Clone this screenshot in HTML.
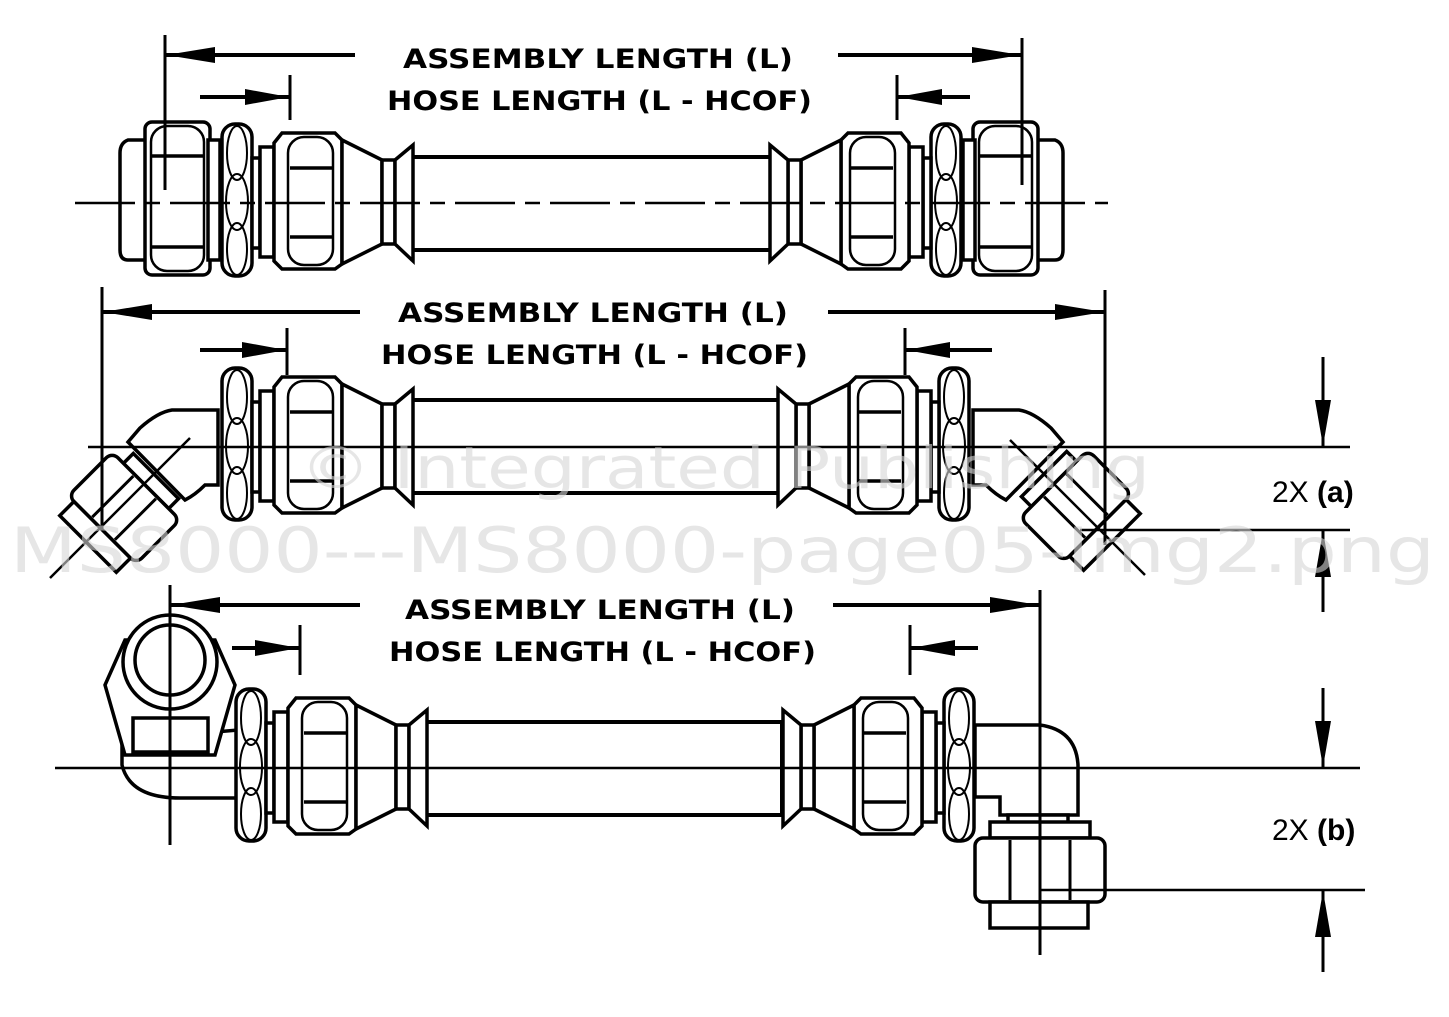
<!DOCTYPE html>
<html><head><meta charset="utf-8"><style>
html,body{margin:0;padding:0;background:#fff;}
svg{display:block}
.lb{font-family:"DejaVu Sans","Liberation Sans",sans-serif;font-weight:bold;}
.wm{font-family:"DejaVu Sans","Liberation Sans",sans-serif;font-weight:normal;}
</style></head><body>
<svg width="1449" height="1017" viewBox="0 0 1449 1017" xmlns="http://www.w3.org/2000/svg">
<defs>
<g id="core" fill="#fff" stroke="#000" stroke-width="3.5">
  <rect x="222" y="-79" width="30" height="152" rx="13"/>
  <g fill="none" stroke-width="2">
    <ellipse cx="237" cy="-50" rx="10" ry="27"/>
    <ellipse cx="237" cy="-1" rx="11" ry="28"/>
    <ellipse cx="237" cy="46" rx="10" ry="26"/>
  </g>
  <rect x="252" y="-45" width="8" height="90"/>
  <rect x="260" y="-56" width="14" height="110"/>
  <path d="M274,-60 L282,-70 L335,-70 L342,-63 L342,61 L335,66 L282,66 L274,58 Z"/>
  <rect x="288" y="-66" width="45" height="128" rx="16" fill="none" stroke-width="2.5"/>
  <path d="M290,-35 L333,-35 M290,34 L333,34" stroke-width="3.5"/>
  <path d="M342,-63 L382,-43 L382,41 L342,61 Z"/>
  <rect x="382" y="-43" width="13" height="84"/>
  <path d="M395,-43 L413,-58 L413,58 L395,41 Z"/>
</g>
<g id="nut" fill="#fff" stroke="#000" stroke-width="3.5">
  <path d="M148,-63 L128,-63 Q120,-60 120,-50 L120,47 Q120,57 128,57 L148,57"/>
  <rect x="145" y="-81" width="65" height="153" rx="7"/>
  <rect x="151" y="-77" width="53" height="145" rx="16" fill="none" stroke-width="2.5"/>
  <path d="M152,-47 L203,-47 M152,44 L203,44"/>
  <rect x="208" y="-63" width="12" height="120"/>
</g>
<g id="dnut" fill="#fff" stroke="#000" stroke-width="3.5">
  <rect x="-32" y="-48" width="64" height="14"/>
  <rect x="-48" y="-34" width="96" height="62" rx="8"/>
  <path d="M-16,-32 L-16,26 M16,-32 L16,26" stroke-width="3"/>
  <rect x="-40" y="28" width="80" height="20"/>
</g>
<g id="elb45" fill="#fff" stroke="#000" stroke-width="3.5">
  <path d="M218,410 L172,410 Q158,412 140,428 L128,442 L185,500 Q195,495 205,485 L218,485 Z"/>
</g>
</defs>

<g fill="#fff" stroke="#000" stroke-width="4">
<rect x="411" y="157" width="361" height="93"/>
<rect x="411" y="400" width="369" height="93"/>
<rect x="418" y="722" width="364" height="93"/>
</g>

<use href="#core" transform="translate(0,203)"/>
<use href="#nut" transform="translate(0,203)"/>
<use href="#core" transform="translate(1183,203) scale(-1,1)"/>
<use href="#nut" transform="translate(1183,203) scale(-1,1)"/>

<use href="#elb45"/>
<use href="#elb45" transform="translate(1191,0) scale(-1,1)"/>
<use href="#core" transform="translate(0,447)"/>
<use href="#core" transform="translate(1191,447) scale(-1,1)"/>
<use href="#dnut" transform="translate(122,510) rotate(45)"/>
<use href="#dnut" transform="translate(1078,508) rotate(-45)"/>

<g fill="#fff" stroke="#000" stroke-width="3.5">
  <path d="M238,730 L238,798 L180,798 Q130,798 122,765 L122,740 Z"/>
  <path d="M105,685 L125,640 L215,640 L235,685 L215,755 L125,755 Z"/>
  <rect x="133" y="718" width="75" height="34" fill="none"/>
  <circle cx="170" cy="662" r="47"/>
  <circle cx="170" cy="660" r="35"/>
  <path d="M975,725 L1040,725 Q1076,730 1078,765 L1078,815 L1000,815 L1000,797 L975,797 Z"/>
  <rect x="1008" y="815" width="60" height="8"/>
  <rect x="990" y="822" width="100" height="16"/>
  <rect x="975" y="838" width="130" height="64" rx="8"/>
  <path d="M1010,840 L1010,900 M1070,840 L1070,900" stroke-width="3"/>
  <rect x="990" y="902" width="98" height="26"/>
</g>
<use href="#core" transform="translate(14,768)"/>
<use href="#core" transform="translate(1196,768) scale(-1,1)"/>

<g stroke="#000" stroke-width="2.5" fill="none">
<path d="M75,203 L1108,203" stroke-dasharray="60,10,15,10"/>
<path d="M88,447 L1350,447"/>
<path d="M55,768 L1360,768"/>
<path d="M1080,530 L1350,530 M1040,890 L1365,890"/>
<path d="M50,578 L190,438 M1010,440 L1145,575"/>
<path d="M165,35 L165,190 M1022,38 L1022,185" stroke-width="3"/>
<path d="M102,287 L102,530 M1105,290 L1105,545" stroke-width="3"/>
<path d="M170,585 L170,845 M1040,590 L1040,955" stroke-width="3"/>
<path d="M290,75 L290,120 M897,75 L897,120" stroke-width="3"/>
<path d="M287,328 L287,375 M905,328 L905,375" stroke-width="3"/>
<path d="M300,625 L300,675 M910,625 L910,675" stroke-width="3"/>
<path d="M165,55 L355,55 M838,55 L1022,55" stroke-width="4"/>
<path d="M200,97 L290,97 M897,97 L970,97" stroke-width="4"/>
<path d="M102,312 L360,312 M828,312 L1105,312" stroke-width="4"/>
<path d="M200,350 L287,350 M905,350 L992,350" stroke-width="4"/>
<path d="M170,605 L360,605 M833,605 L1040,605" stroke-width="4"/>
<path d="M232,648 L300,648 M910,648 L978,648" stroke-width="4"/>
<path d="M1323,357 L1323,447 M1323,530 L1323,612" stroke-width="3"/>
<path d="M1323,688 L1323,768 M1323,890 L1323,972" stroke-width="3"/>
</g>
<g fill="#000">
<path d="M166,55 L215,47 L215,63 Z"/><path d="M1021,55 L972,47 L972,63 Z"/>
<path d="M289,97 L245,89 L245,105 Z"/><path d="M898,97 L942,89 L942,105 Z"/>
<path d="M103,312 L152,304 L152,320 Z"/><path d="M1104,312 L1055,304 L1055,320 Z"/>
<path d="M286,350 L242,342 L242,358 Z"/><path d="M906,350 L950,342 L950,358 Z"/>
<path d="M171,605 L220,597 L220,613 Z"/><path d="M1039,605 L990,597 L990,613 Z"/>
<path d="M299,648 L255,640 L255,656 Z"/><path d="M911,648 L955,640 L955,656 Z"/>
<path d="M1323,446 L1315,400 L1331,400 Z"/><path d="M1323,531 L1315,577 L1331,577 Z"/>
<path d="M1323,767 L1315,721 L1331,721 Z"/><path d="M1323,891 L1315,937 L1331,937 Z"/>
</g>
<g class="lb" font-size="27" fill="#000">
<text x="403" y="68" textLength="390" lengthAdjust="spacingAndGlyphs">ASSEMBLY LENGTH (L)</text>
<text x="387" y="110" textLength="425" lengthAdjust="spacingAndGlyphs">HOSE LENGTH (L - HCOF)</text>
<text x="398" y="322" textLength="390" lengthAdjust="spacingAndGlyphs">ASSEMBLY LENGTH (L)</text>
<text x="381" y="364" textLength="427" lengthAdjust="spacingAndGlyphs">HOSE LENGTH (L - HCOF)</text>
<text x="405" y="619" textLength="390" lengthAdjust="spacingAndGlyphs">ASSEMBLY LENGTH (L)</text>
<text x="389" y="661" textLength="427" lengthAdjust="spacingAndGlyphs">HOSE LENGTH (L - HCOF)</text>
</g>
<g font-size="30" fill="#000" font-family="Liberation Sans, sans-serif">
<text x="1272" y="502">2X <tspan font-weight="bold">(a)</tspan></text>
<text x="1272" y="840">2X <tspan font-weight="bold">(b)</tspan></text>
</g>
<g class="wm" fill="#d6d6d6" opacity="0.6">
<text x="300" y="488" font-size="58" textLength="850" lengthAdjust="spacingAndGlyphs">© Integrated Publishing</text>
<text x="10" y="572" font-size="62" textLength="1425" lengthAdjust="spacingAndGlyphs">MS8000---MS8000-page05-Img2.png</text>
</g>
</svg>
</body></html>
